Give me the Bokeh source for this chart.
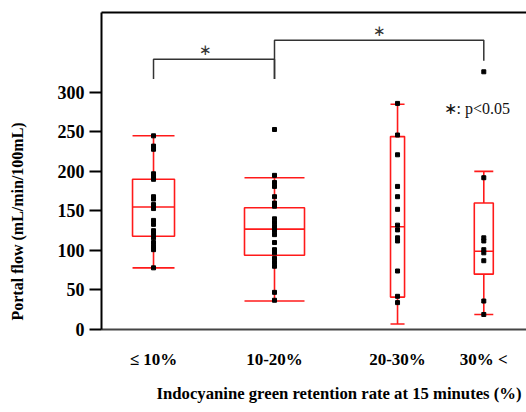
from bokeh.plotting import figure
from bokeh.models import Range1d, FixedTicker, LinearAxis, Label, Title
from bokeh.embed import file_html
from bokeh.resources import INLINE

# ---------------- data ----------------
categories = ["≤ 10%", "10-20%", "20-30%", "30% <"]
q1 = [118, 94, 41, 70]
median = [155, 127, 130, 99]
q3 = [190, 154, 244, 160]
lower = [78, 36, 7, 19]
upper = [245, 192, 285, 200]
pts_le10 = [245, 232, 228, 197, 193, 190, 168, 165, 158, 153, 138, 133, 125, 121, 116, 110, 105, 101, 78]
pts_10_20 = [253, 195, 186, 181, 168, 160, 156, 140, 135, 130, 125, 120, 110, 101, 97, 90, 85, 80, 47, 37]
pts_20_30 = [286, 246, 221, 181, 168, 152, 132, 126, 116, 112, 74, 42, 34]
pts_30 = [326, 192, 116, 112, 101, 97, 87, 36, 19]
points = [pts_le10, pts_10_20, pts_20_30, pts_30]
y_ticks = [0, 50, 100, 150, 200, 250, 300]
sig_pairs = [(0, 1), (1, 3)]
sig_mark = "∗"
note_text = "∗: p<0.05"
y_title = "Portal flow (mL/min/100mL)"
x_title = "Indocyanine green retention rate at 15 minutes (%)"

# ---------------- layout ----------------
positions = [1.0, 2.0, 3.017, 3.73]
widths = [0.347, 0.496, 0.116, 0.157]
bracket_top = [342, 366]
bracket_legs = [(317, 317), (317, 340)]
star_x = [1.43, 2.87]
FONT = "Liberation Serif"
RED = "#ff1a1a"

p = figure(width=526, height=412, output_backend="svg", toolbar_location=None,
           x_range=Range1d(0.570, 4.083), y_range=Range1d(0, 401),
           min_border_left=101, min_border_right=0, min_border_top=12,
           min_border_bottom=83)
p.outline_line_color = None
p.grid.grid_line_color = None
p.background_fill_color = "white"
p.border_fill_color = "white"

# y axis
ya = p.yaxis[0]
ya.ticker = FixedTicker(ticks=y_ticks)
ya.minor_tick_line_color = None
ya.major_tick_in = 0
ya.major_tick_out = 12
ya.major_tick_line_width = 2
ya.axis_line_width = 2
ya.axis_line_color = "black"
ya.major_label_standoff = 5
ya.major_label_text_font = FONT
ya.major_label_text_font_style = "bold"
ya.major_label_text_font_size = "18px"
ya.major_label_text_color = "black"
ya.axis_label = " "
ya.axis_label_text_font_size = "17px"
ya.axis_label_standoff = 5

# x axis
xa = p.xaxis[0]
xa.ticker = FixedTicker(ticks=positions)
xa.major_label_overrides = {pos: lab for pos, lab in zip(positions, categories)}
xa.minor_tick_line_color = None
xa.major_tick_line_color = None
xa.major_tick_in = 0
xa.major_tick_out = 0
xa.axis_line_width = 2
xa.axis_line_color = "#444444"
xa.major_label_standoff = 20
xa.major_label_text_font = FONT
xa.major_label_text_font_style = "bold"
xa.major_label_text_font_size = "17px"
xa.major_label_text_color = "black"

# top border line
top = LinearAxis(ticker=FixedTicker(ticks=[]), axis_line_width=2, axis_line_color="black",
                 major_tick_line_color=None, minor_tick_line_color=None,
                 major_label_text_font_size="0px")
p.add_layout(top, "above")

# axis titles
p.add_layout(Title(text=x_title, align="left", offset=55, text_font=FONT,
                   text_font_style="bold", text_font_size="16.7px",
                   text_color="black", standoff=20), "below")
p.add_layout(Title(text=y_title, align="left", offset=9, text_font=FONT,
                   text_font_style="bold", text_font_size="16px",
                   text_color="black", standoff=4), "left")

# boxes
lefts = [c - w / 2 for c, w in zip(positions, widths)]
rights = [c + w / 2 for c, w in zip(positions, widths)]
p.quad(left=lefts, right=rights, bottom=q1, top=q3, fill_color=None,
       line_color=RED, line_width=1.6)
p.segment(x0=lefts, x1=rights, y0=median, y1=median, line_color=RED, line_width=1.6)
p.segment(x0=positions, x1=positions, y0=q3, y1=upper, line_color=RED, line_width=1.6)
p.segment(x0=positions, x1=positions, y0=q1, y1=lower, line_color=RED, line_width=1.6)
p.segment(x0=lefts, x1=rights, y0=upper, y1=upper, line_color=RED, line_width=1.6)
p.segment(x0=lefts, x1=rights, y0=lower, y1=lower, line_color=RED, line_width=1.6)

# points
xs, ys = [], []
for c, vals in zip(positions, points):
    xs += [c] * len(vals)
    ys += vals
p.scatter(xs, ys, marker="square", size=4, color="black")

# significance brackets
for (a, b), yt, (la, lb), sx in zip(sig_pairs, bracket_top, bracket_legs, star_x):
    xa0, xb0 = positions[a], positions[b]
    p.line([xa0, xa0, xb0, xb0], [la, yt, yt, lb], line_color="#333333", line_width=1.5)
    p.add_layout(Label(x=sx, y=yt + 1, text=sig_mark, text_align="center",
                       text_baseline="bottom", text_font=FONT,
                       text_font_size="15px", text_color="#333333"))

# note
p.add_layout(Label(x=3.397, y=280, text=note_text, text_align="left",
                   text_baseline="middle", text_font=FONT,
                   text_font_size="16px", text_color="#111111"))

open("out.html", "w").write(file_html(p, INLINE))
